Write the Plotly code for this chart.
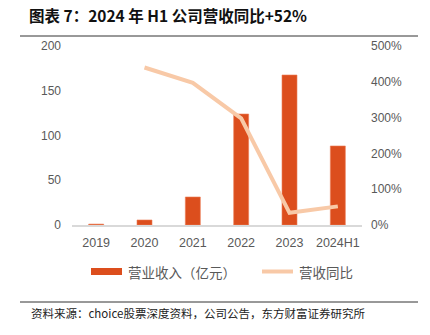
import plotly.graph_objects as go

years = ["2019", "2020", "2021", "2022", "2023", "2024H1"]
revenue = [1.0, 5.6, 31.3, 124.0, 167.6, 88.3]          # 营业收入（亿元）
growth = [None, 440, 397, 298, 34, 52]                  # 营收同比（%）

BAR_COLOR = "#DC4E1D"
LINE_COLOR = "#F8C9A7"
TEXT_GRAY = "#595959"
CJK = "Noto Sans CJK SC"
LATIN = "Liberation Sans, Arial, sans-serif"

# plot area in pixels (430 x 335 canvas)
L, R, T, B = 72, 362, 46, 225
W, H = 430, 335


def px(x):
    return (x - L) / (R - L)


def py(y):
    return (B - y) / (B - T)


fig = go.Figure()
fig.add_trace(go.Bar(
    x=years, y=revenue, name="营业收入（亿元）",
    marker=dict(color=BAR_COLOR, line=dict(color="#EC7C55", width=0.6)),
    width=0.31, yaxis="y",
))
fig.add_trace(go.Scatter(
    x=years, y=growth, name="营收同比", mode="lines",
    line=dict(color=LINE_COLOR, width=4), yaxis="y2", connectgaps=False,
))

fig.update_layout(
    width=W, height=H,
    margin=dict(l=L, r=W - R, t=T, b=H - B),
    paper_bgcolor="white", plot_bgcolor="white",
    showlegend=False,
    xaxis=dict(
        showline=True, linecolor="#D9D9D9", linewidth=1.5,
        showgrid=False, ticks="", ticklabelstandoff=5,
        tickfont=dict(family=LATIN, size=12.5, color=TEXT_GRAY),
    ),
    yaxis=dict(
        range=[0, 200], dtick=50, showgrid=False, zeroline=False,
        showline=False, ticks="", ticklabelstandoff=10,
        tickfont=dict(family=LATIN, size=12, color=TEXT_GRAY),
    ),
    yaxis2=dict(
        range=[0, 500], dtick=100, ticksuffix="%", overlaying="y",
        side="right", showgrid=False, zeroline=False, showline=False,
        ticks="", ticklabelstandoff=8,
        tickfont=dict(family=LATIN, size=12, color=TEXT_GRAY),
    ),
)

# title and rules
fig.add_annotation(
    text="<b>图表 7：2024 年 H1 公司营收同比+52%</b>",
    xref="paper", yref="paper", x=px(27), y=py(15),
    xanchor="left", yanchor="middle", showarrow=False,
    font=dict(family=CJK, size=15.5, color="#111111"),
)
fig.add_shape(type="line", xref="paper", yref="paper",
              x0=px(20), x1=px(418), y0=py(36), y1=py(36),
              line=dict(color="#333333", width=1))
fig.add_shape(type="line", xref="paper", yref="paper",
              x0=px(20), x1=px(418), y0=py(302), y1=py(302),
              line=dict(color="#333333", width=1))
fig.add_annotation(
    text="资料来源：choice股票深度资料，公司公告，东方财富证券研究所",
    xref="paper", yref="paper", x=px(29), y=py(313),
    xanchor="left", yanchor="middle", showarrow=False,
    font=dict(family=CJK, size=11.5, color="#222222"),
)

# legend
fig.add_shape(type="rect", xref="paper", yref="paper",
              x0=px(91), x1=px(122), y0=py(268), y1=py(275),
              fillcolor=BAR_COLOR, line=dict(width=0))
fig.add_annotation(
    text="营业收入（亿元）", xref="paper", yref="paper",
    x=px(126), y=py(271.5), xanchor="left", yanchor="middle",
    showarrow=False, font=dict(family=CJK, size=13.5, color=TEXT_GRAY),
)
fig.add_shape(type="line", xref="paper", yref="paper",
              x0=px(262), x1=px(293), y0=py(271.5), y1=py(271.5),
              line=dict(color=LINE_COLOR, width=4))
fig.add_annotation(
    text="营收同比", xref="paper", yref="paper",
    x=px(297), y=py(271.5), xanchor="left", yanchor="middle",
    showarrow=False, font=dict(family=CJK, size=13.5, color=TEXT_GRAY),
)

fig.write_html("out.html")
